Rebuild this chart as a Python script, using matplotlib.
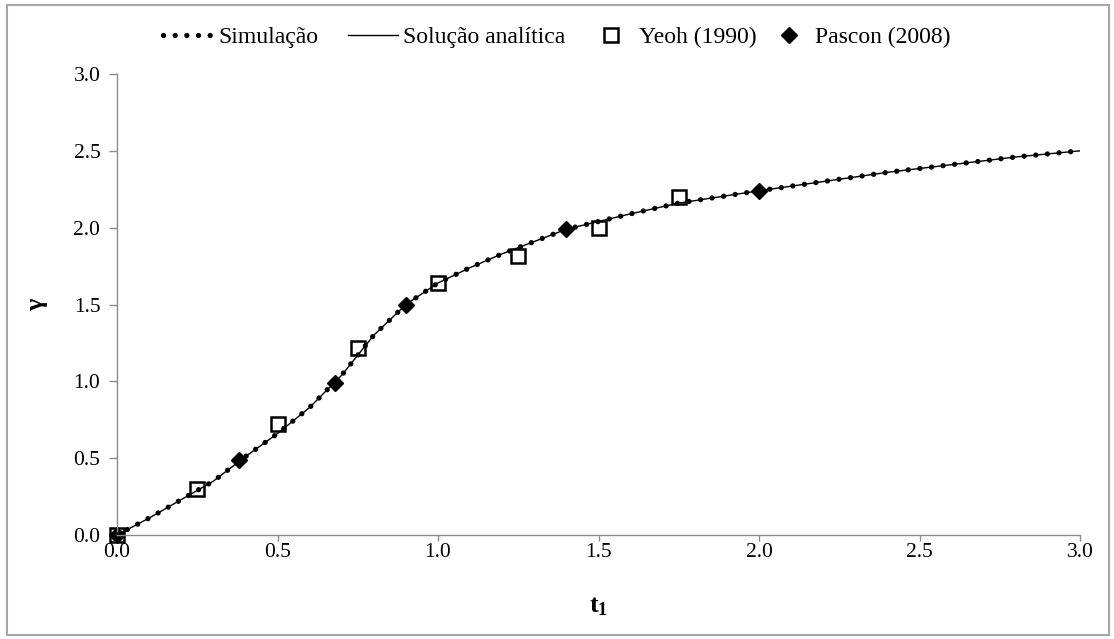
import numpy as np
import matplotlib
matplotlib.use("Agg")
import matplotlib.pyplot as plt
from matplotlib.patches import Rectangle
from matplotlib.ticker import FormatStrFormatter

plt.rcParams["font.family"] = ["Liberation Serif", "DejaVu Serif"]
plt.rcParams["mathtext.fontset"] = "custom"
plt.rcParams["mathtext.rm"] = "Liberation Serif"
plt.rcParams["mathtext.bf"] = "Liberation Serif:bold"

# curve (simulation and analytical solution practically coincide)
t_sim = [0.0, 0.1, 0.2, 0.25, 0.3, 0.4, 0.5, 0.6, 0.7, 0.75, 0.8, 0.9, 1.0,
         1.1, 1.2, 1.3, 1.4, 1.5, 1.6, 1.75, 2.0, 2.2, 2.4, 2.6, 2.8, 3.0]
g_sim = [0.0, 0.11, 0.23, 0.29, 0.35, 0.51, 0.66, 0.83, 1.04, 1.17, 1.30, 1.50, 1.64,
         1.74, 1.83, 1.91, 1.99, 2.04, 2.09, 2.16, 2.24, 2.30, 2.36, 2.41, 2.46, 2.50]
t_an = t_sim
g_an = g_sim

t_yeoh = [0.0, 0.25, 0.5, 0.75, 1.0, 1.25, 1.5, 1.75]
g_yeoh = [0.0, 0.30, 0.72, 1.22, 1.64, 1.815, 2.0, 2.20]

t_pascon = [0.0, 0.38, 0.68, 0.9, 1.4, 2.0]
g_pascon = [0.0, 0.49, 0.99, 1.50, 1.99, 2.24]

W, H = 1114, 639
fig = plt.figure(figsize=(W / 100, H / 100), dpi=100)
ax = fig.add_axes([117 / W, 1 - 535 / H, (1080 - 117) / W, (535 - 74) / H])

yeoh, = ax.plot(t_yeoh, g_yeoh, ls="none", marker="s", ms=9.5, mfc="none",
                mec="black", mew=1.8, label="Yeoh (1990)", zorder=2, clip_on=False)
pascon, = ax.plot(t_pascon, g_pascon, ls="none", marker="D", ms=8.5, color="black",
                  label="Pascon (2008)", zorder=2, clip_on=False)
anal, = ax.plot(t_an, g_an, color="black", lw=1.0, label="Solução analítica", zorder=3)
sim, = ax.plot(t_sim, g_sim, color="black", lw=3.8, ls=(0, (0.01, 2.2)),
               dash_capstyle="round", label="Simulação", zorder=4)

ax.set_xlim(0, 3)
ax.set_ylim(0, 3)
ax.set_xticks(np.arange(0, 3.01, 0.5))
ax.set_yticks(np.arange(0, 3.01, 0.5))
ax.xaxis.set_major_formatter(FormatStrFormatter("%.1f"))
ax.yaxis.set_major_formatter(FormatStrFormatter("%.1f"))
for s in ["top", "right"]:
    ax.spines[s].set_visible(False)
for s in ["left", "bottom"]:
    ax.spines[s].set_color("#8c8c8c")
    ax.spines[s].set_linewidth(1.0)
ax.tick_params(colors="#8c8c8c", labelcolor="black", labelsize=15.5,
               width=1.0, direction="out")
ax.tick_params(axis="x", length=4, pad=2)
ax.tick_params(axis="y", length=6, pad=6)
ax.set_xlabel(r"$\mathbf{t_1}$", fontsize=19, labelpad=24)
ax.set_ylabel("γ", fontsize=19, fontweight="bold", labelpad=18)

# one legend per entry so each sits where it should along the top
entries = [(sim, 163, 0.25), (anal, 348, 0.25), (yeoh, 586, 0.15), (pascon, 764, 0.05)]
for handle, x0, pad in entries:
    leg = fig.legend([handle], [handle.get_label()], loc="center left",
                     bbox_to_anchor=(x0 / W, 1 - 37 / H), frameon=False,
                     fontsize=17, handlelength=2.1, handletextpad=pad,
                     borderpad=0, borderaxespad=0)

# chart border
fig.patches.append(Rectangle((7 / W, 4 / H), 1102 / W, 630 / H,
                             transform=fig.transFigure, fill=False,
                             edgecolor="#a6a6a6", lw=1.5))

fig.savefig("out.png", dpi=100)
